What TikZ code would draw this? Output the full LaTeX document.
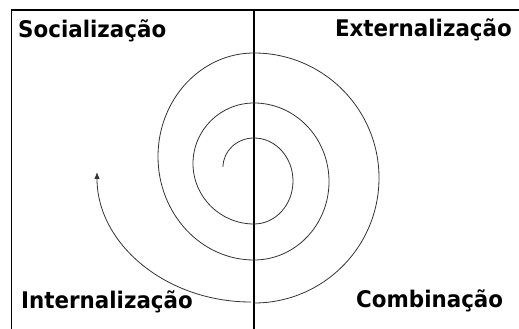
\documentclass[tikz,border=0pt]{standalone}
\usepackage{fontspec}
\newfontfamily\quadfont{DejaVu Sans}
\usetikzlibrary{arrows.meta, positioning}

\begin{document}
\begin{tikzpicture}
[
    x = 1pt, y = 1pt,
    every node/.style = {inner sep = 0pt, yscale = 1.07, font = \quadfont\bfseries\fontsize{21.4pt}{25pt}\selectfont},
    frameline/.style = {line width = 1.2pt},
    spiralline/.style = {line width = 0.8pt, black!80}
  ]
  \useasboundingbox (0,0) rectangle (519,329);

  % frame and middle line
  \coordinate (topleft) at (11.5,319);
  \coordinate (topright) at (519,319);
  \coordinate (botleft) at (11.5,0);
  \coordinate (midtop) at (254,319);
  \coordinate (midbot) at (254,0);
  \draw[frameline] (botleft) -- (topleft) -- (topright);
  \draw[frameline] (midtop) -- (midbot);

  % quadrant labels
  \node[anchor = base west](soc) at (18,291.7){Socialização};
  \node[anchor = base east](ext) at (512,292){Externalização};
  \node[anchor = base west](int) at (21,20.7){Internalização};
  \node[anchor = base east](comb) at (503.3,21){Combinação};

  % spiral
  \draw[spiralline] (223,162) arc[start angle=180, end angle=90, x radius=31, y radius=29];
  \draw[spiralline] (254,191) arc[start angle=90, end angle=-90, x radius=39, y radius=43];
  \draw[spiralline] (254,105) arc[start angle=270, end angle=90, x radius=61, y radius=60.5];
  \draw[spiralline] (254,226) arc[start angle=90, end angle=-90, x radius=75, y radius=78.5];
  \draw[spiralline] (254,69) arc[start angle=270, end angle=90, x radius=96, y radius=103.5];
  \draw[spiralline] (254,276) arc[start angle=90, end angle=-90, x radius=125, y radius=125];
  \draw[spiralline, -{Latex[length=7pt, width=5.5pt]}] (251,27) arc[start angle=270, end angle=180, x radius=154, y radius=130];

\end{tikzpicture}
\end{document}
